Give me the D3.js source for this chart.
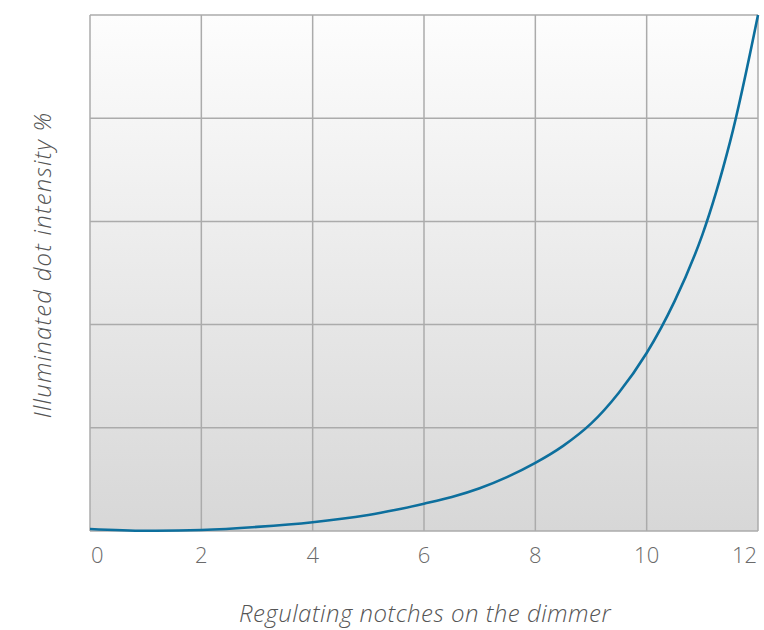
<!DOCTYPE html>
<html><head><meta charset="utf-8">
<script src="https://cdn.jsdelivr.net/npm/d3@7"></script>
<style>body{margin:0;background:#fff;} svg{display:block;}</style>
</head><body>
<svg id="c" width="764" height="630"></svg>
<script>
const notches = [0, 1, 2, 3, 4, 5, 5.5, 6, 6.5, 7, 7.5, 8, 8.5, 9, 9.5, 10, 10.5, 11, 11.5, 12];
const intensity = [0.4, 0.05, 0.2, 0.8, 1.7, 3.1, 4.1, 5.3, 6.6, 8.3, 10.5, 13.2, 16.5, 20.8, 26.8, 34.5, 44.5, 57.4, 75.5, 100];
const xTicks = [0, 2, 4, 6, 8, 10, 12];
const yGrid = [0, 20, 40, 60, 80, 100];
const xTitle = "Regulating notches on the dimmer";
const yTitle = "Illuminated dot intensity %";

const svg = d3.select("#c");
const m = {l: 90, r: 758, t: 15, b: 531};
const x = d3.scaleLinear().domain([0, 12]).range([m.l, m.r]);
const y = d3.scaleLinear().domain([0, 100]).range([m.b, m.t]);

const defs = svg.append("defs");
const g = defs.append("linearGradient").attr("id", "bg").attr("x1", 0).attr("y1", 0).attr("x2", 0).attr("y2", 1);
g.append("stop").attr("offset", 0).attr("stop-color", "#fdfdfd");
g.append("stop").attr("offset", 1).attr("stop-color", "#d7d7d7");

svg.append("rect").attr("x", m.l).attr("y", m.t).attr("width", m.r - m.l).attr("height", m.b - m.t).attr("fill", "url(#bg)");

svg.append("g").selectAll("line").data(xTicks).join("line")
  .attr("x1", d => x(d)).attr("x2", d => x(d)).attr("y1", m.t).attr("y2", m.b)
  .attr("stroke", "#ababab").attr("stroke-width", 1.5);
svg.append("g").selectAll("line").data(yGrid).join("line")
  .attr("x1", m.l).attr("x2", m.r).attr("y1", d => y(d)).attr("y2", d => y(d))
  .attr("stroke", "#ababab").attr("stroke-width", 1.5);

const line = d3.line().x((d, i) => x(notches[i])).y(d => y(d)).curve(d3.curveCatmullRom.alpha(0.5));
svg.append("path").datum(intensity).attr("d", line)
  .attr("fill", "none").attr("stroke", "#0d6f9d").attr("stroke-width", 2.6);

svg.append("g").selectAll("text").data(xTicks).join("text")
  .attr("x", (d, i) => i === 0 ? x(d) + 1 : i === xTicks.length - 1 ? x(d) - 1 : x(d))
  .attr("y", 563)
  .attr("text-anchor", (d, i) => i === 0 ? "start" : i === xTicks.length - 1 ? "end" : "middle")
  .attr("font-family", "'Open Sans', sans-serif").attr("font-weight", 300)
  .attr("font-size", 22).attr("fill", "#6a6a6a").text(d => d);

svg.append("text").attr("x", 425).attr("y", 622).attr("text-anchor", "middle")
  .attr("font-family", "'Open Sans', sans-serif").attr("font-weight", 300).attr("font-style", "italic")
  .attr("font-size", 24).attr("letter-spacing", 0.5).attr("fill", "#555").text(xTitle);

svg.append("text").attr("transform", "translate(51,265) rotate(-90)").attr("text-anchor", "middle")
  .attr("font-family", "'Open Sans', sans-serif").attr("font-weight", 300).attr("font-style", "italic")
  .attr("font-size", 24).attr("letter-spacing", 1.2).attr("fill", "#555").text(yTitle);
</script>
</body></html>
